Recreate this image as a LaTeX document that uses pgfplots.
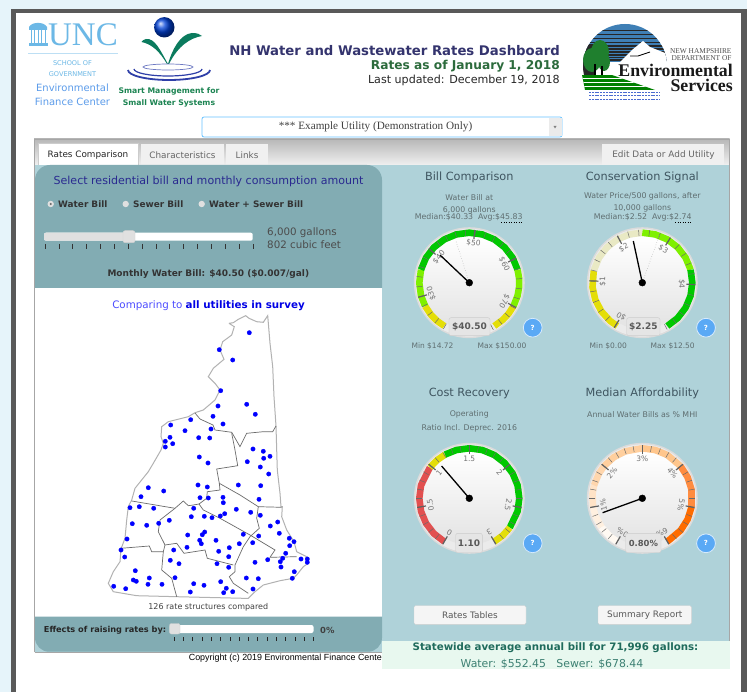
\documentclass[border=0pt]{standalone}
\usepackage{fontspec}
\setmainfont{DejaVu Sans}
\newfontfamily\serif{Liberation Serif}
\newfontfamily\arial{Liberation Sans}
\usepackage{pgfplots}
\pgfplotsset{compat=1.18}

\definecolor{pagebg}{HTML}{E6F4FA}
\definecolor{frame}{HTML}{595959}
\definecolor{teal}{HTML}{AFD2D9}
\definecolor{tealdk}{HTML}{82ACB3}
\definecolor{statebg}{HTML}{E8F8EF}
\definecolor{gold}{HTML}{E4DE08}
\definecolor{lime}{HTML}{7FF000}
\definecolor{grn}{HTML}{00C800}
\definecolor{beige}{HTML}{E9E9C4}
\definecolor{rd}{HTML}{E25050}
\definecolor{helpblue}{HTML}{5AA9F5}
\definecolor{unc}{HTML}{6CB8E6}
\definecolor{leaf}{HTML}{0B7B5E}
\definecolor{smarttxt}{HTML}{1C8452}
\definecolor{ripple}{HTML}{2F3FA8}
\definecolor{gtext}{HTML}{5F6E70}
\definecolor{gtitle}{HTML}{3F5560}
\definecolor{tick}{HTML}{6A6A6A}
\definecolor{titleblue}{HTML}{34346E}
\definecolor{titlegreen}{HTML}{2C6B3C}
\definecolor{selblue}{HTML}{2A2A90}
\definecolor{stateA}{HTML}{1F6B5C}
\definecolor{stateB}{HTML}{3D8073}
\definecolor{sky}{HTML}{3F7FB5}
\definecolor{treeg}{HTML}{1F7F2E}
\definecolor{wave}{HTML}{4A6AD0}

\newcommand{\fs}[1]{\fontsize{#1}{#1}\selectfont}
\newcommand{\rect}[5]{\fill[#1] (#2,#3) rectangle (#4,#5);}
% gauge pieces, all in page pixels, angles clockwise from east
\newcommand{\band}[4]{\addplot[data cs=polar, mark=none, line width=6.6pt, line join=round, color=#3,
  shift={(axis direction cs:#1,#2)}] coordinates {#4};}
\newcommand{\face}[2]{%
  \fill[black!14] (#1,#2) circle[radius=55.5pt];
  \fill[white!92!black] (#1,#2) circle[radius=54pt];
  \shade[top color=white, bottom color=black!11] (#1,#2) circle[radius=46.5pt];}
\newcommand{\gticks}[4]{%
  \pgfplotsinvokeforeach{#3}{\draw[tick, line width=.5pt] (axis cs:{#1+47*cos(##1)},{#2+47*sin(##1)}) -- (axis cs:{#1+53*cos(##1)},{#2+53*sin(##1)});}
  \pgfplotsinvokeforeach{#4}{\draw[black!62, line width=1.2pt] (axis cs:{#1+44*cos(##1)},{#2+44*sin(##1)}) -- (axis cs:{#1+53*cos(##1)},{#2+53*sin(##1)});}}
\newcommand{\glabel}[4]{\node[text=black!55, font=\fs{7.5}, rotate={270-#3}, inner sep=0] at (axis cs:{#1+39.5*cos(#3)},{#2+39.5*sin(#3)}) {#4};}
\newcommand{\needle}[4]{%
  \addplot[black, line width=1.3pt, mark=none] coordinates {(#1,#2)(#3,#4)};
  \addplot[only marks, mark=*, mark size=3.4pt, black] coordinates {(#1,#2)};}
\newcommand{\valbox}[6]{%
  \fill[black!10, draw=black!20, rounded corners=2pt] (#1,#2) rectangle (#3,#4);
  \node[text=black!65, font=\bfseries\fs{#6}, inner sep=0] at ({(#1+#3)/2},{(#2+#4)/2}) {#5};}
\newcommand{\help}[2]{%
  \fill[helpblue, draw=white!75!helpblue, line width=.8pt] (#1,#2) circle[radius=9.4pt];
  \node[text=white, font=\bfseries\fs{7}, inner sep=0] at (#1,#2) {?};}
\newcommand{\ctext}[5]{\node[text=#4, font=#5, inner sep=0, anchor=center] at (#1,#2) {#3};}
\newcommand{\rtext}[5]{\node[text=#4, font=#5, inner sep=0, anchor=east] at (#1,#2) {#3};}
\newcommand{\ltext}[5]{\node[text=#4, font=#5, inner sep=0, anchor=west] at (#1,#2) {#3};}
\newcommand{\btn}[5]{%
  \fill[black!4, draw=black!18, rounded corners=1.5pt] (#1,#2) rectangle (#3,#4);
  \node[text=black!65, font=\fs{8.9}, inner sep=0] at ({(#1+#3)/2},{(#2+#4)/2}) {#5};}

\begin{document}
\begin{tikzpicture}
\begin{axis}[
  hide axis, scale only axis, width=747pt, height=692pt,
  xmin=0, xmax=747, ymin=0, ymax=692, y dir=reverse, clip=false]

% page and frame
\rect{white}{0}{0}{747}{692}
\rect{pagebg}{0}{0}{747}{9}
\rect{pagebg}{0}{0}{10.5}{692}
\rect{frame}{10.5}{9}{741}{13.3}
\rect{frame}{10.5}{9}{15.5}{692}
\rect{frame}{740.5}{9}{747}{692}

% logos: UNC
\ctext{83}{35}{UNC}{unc}{\serif\fs{33}}
\pgfplotsinvokeforeach{30.5,34,37.5,41,44.5}{\fill[unc] (#1,30) rectangle (#1+1.4,43);}
\fill[unc] (29,27) .. controls (32,21.5) and (44,21.5) .. (47,27) -- (47,30) -- (29,30) -- cycle;
\fill[unc] (28.5,43) rectangle (47.5,46);
\draw[unc!45, line width=.8pt] (28,53) -- (118,53);
\ctext{72.5}{63.3}{SCHOOL OF}{unc}{\fs{6.6}}
\ctext{72.5}{73.7}{GOVERNMENT}{unc}{\fs{6.6}}
\ctext{72.5}{88}{Environmental}{unc!85!blue}{\fs{10}}
\ctext{72.5}{101.3}{Finance Center}{unc!85!blue}{\fs{10}}

% logos: Smart Management
\shade[ball color=blue!70!cyan!85!black] (164.3,27.3) circle[radius=10.2pt];
\fill[leaf] (168,64) .. controls (160,50) and (155,38) .. (146,39) .. controls (144,39.5) and (142.5,40.5) .. (141.5,42) .. controls (152,44) and (160,52) .. (167,64) -- cycle;
\fill[leaf] (168,64) .. controls (172,50) and (180,34) .. (192,33) .. controls (197,33) and (200,34) .. (202,36) .. controls (190,38) and (178,46) .. (169,64) -- cycle;
\draw[ripple, line width=1.8pt] (128,70) arc[start angle=180, end angle=360, x radius=41pt, y radius=10pt];
\draw[ripple, line width=1.2pt] (134,69) arc[start angle=180, end angle=360, x radius=34pt, y radius=7pt];
\draw[ripple!70, line width=.7pt] (168,67) ellipse[x radius=25pt, y radius=3pt];
\ctext{169}{91.3}{Smart Management for}{smarttxt}{\bfseries\fs{7.7}}
\ctext{169}{103}{Small Water Systems}{smarttxt}{\bfseries\fs{7.7}}

% logos: NH DES
\begin{scope}
\clip (625,66) circle[radius=42pt];
\rect{sky}{580}{22}{670}{62}
\pgfplotsinvokeforeach{30,34,38,42,45.5,48.5,51.5,54.5,57,59.5}{\fill[black!85] (580,#1) rectangle (670,#1+1.3);}
\fill[black!85] (580,44) rectangle (596,76);
\fill[white] (612,70) -- (632,50) -- (643,41) -- (650,47) -- (670,55) -- (670,72) -- cycle;
\end{scope}
\begin{scope}
\clip (582,75) -- (612,75) -- (655,90) -- (585,90) -- cycle;
\rect{green!50!black}{580}{75}{660}{90}
\pgfplotsinvokeforeach{78.5,82.5,86.5}{\draw[white, line width=.6pt] (580,#1) -- (660,#1);}
\end{scope}
\fill[treeg] (592,60) ellipse[x radius=9pt, y radius=12pt];
\fill[treeg] (600,52) ellipse[x radius=9pt, y radius=12pt];
\fill[treeg] (604,62) ellipse[x radius=6pt, y radius=9pt];
\fill[black] (594,64) rectangle (595.5,75);
\fill[black] (601,66) rectangle (602.5,75);
\pgfplotsinvokeforeach{92,95.5,99}{\draw[wave, line width=.7pt, dash pattern=on 2pt off .8pt] (589,#1) -- (660,#1);}
\draw[black, line width=.9pt] (630,56) -- (638,56) -- (650,52);
\rtext{731.7}{50.7}{NEW HAMPSHIRE}{black!70}{\serif\fs{7.4}}
\rtext{731.7}{58}{DEPARTMENT OF}{black!70}{\serif\fs{7.4}}
\rtext{733}{70}{Environmental}{black!90}{\serif\bfseries\fs{17.8}}
\rtext{733}{85}{Services}{black!90}{\serif\bfseries\fs{17.8}}

% header text
\rtext{560}{51}{NH Water and Wastewater Rates Dashboard}{titleblue}{\bfseries\fs{13.25}}
\rtext{560}{66}{Rates as of January 1, 2018}{titlegreen}{\bfseries\fs{12.2}}
\rtext{560}{80}{Last updated: December 19, 2018}{black!85}{\fs{11.1}}

% utility selector
\fill[white, draw=blue!40!cyan!60, line width=.8pt, rounded corners=2pt] (202,117) rectangle (562,137);
\rect{black!8}{549}{118}{561.5}{136.5}
\ctext{375.5}{127}{*** Example Utility (Demonstration Only)}{black!75}{\serif\fs{11.2}}
\fill[black!50] (553.5,126) -- (556.5,126) -- (555,128.5) -- cycle;

% tab strip
\shade[top color=black!28, bottom color=black!6] (34,139) rectangle (729.5,165);
\draw[black!35, line width=.8pt] (34,652) -- (34,139) -- (729.5,139) -- (729.5,641);
\fill[white, draw=black!20] (38,165) -- (38,143) -- (138,143) -- (138,165) -- cycle;
\fill[black!6] (141,144) rectangle (224,165);
\fill[black!6] (226,144) rectangle (268,165);
\fill[black!6] (602,144) rectangle (724,165);
\ctext{88}{155}{Rates Comparison}{black!85}{\fs{8.85}}
\ctext{182.5}{155}{Characteristics}{black!60}{\fs{8.85}}
\ctext{247}{155}{Links}{black!60}{\fs{8.85}}
\ctext{663.5}{155}{Edit Data or Add Utility}{black!60}{\fs{8.9}}

% panels
\rect{teal}{35}{165}{729}{641}
\rect{teal}{35}{640}{382}{652}
\fill[tealdk] (35,288) [rounded corners=15pt] -- (35,165) -- (382,165) [sharp corners] -- (382,288) -- cycle;
\rect{white}{35}{288}{382}{617}
\fill[tealdk] (35,616.7) [rounded corners=14pt] -- (35,651.7) -- (382,651.7) [sharp corners] -- (382,616.7) -- cycle;
\draw[black!35, line width=.8pt] (34.5,652) -- (382,652);
\rect{statebg}{382}{640.7}{729.6}{669}

% top-left controls
\ctext{208.5}{181.7}{Select residential bill and monthly consumption amount}{selblue}{\fs{11.05}}
\pgfplotsinvokeforeach{50.7,125.7,201.7}{\fill[black!12] (#1,204) circle[radius=3.2pt];}
\fill[black!60] (50.7,204) circle[radius=1.1pt];
\ltext{58}{204}{Water Bill}{black!80}{\bfseries\fs{8.9}}
\ltext{133}{204}{Sewer Bill}{black!80}{\bfseries\fs{8.9}}
\ltext{209}{204}{Water + Sewer Bill}{black!80}{\bfseries\fs{8.9}}
\fill[white, rounded corners=2pt] (44,232.7) rectangle (252.7,240.7);
\fill[black!12, rounded corners=2pt] (44,232.7) rectangle (130,240.7);
\fill[black!12, draw=black!18, rounded corners=2pt] (123,230.7) rectangle (135,242.7);
\pgfplotsinvokeforeach{45,58.85,...,253}{\draw[black!80, line width=.5pt] (#1,244) -- (#1,248.7);}
\ltext{267}{233}{6,000 gallons}{black!70}{\fs{10.3}}
\ltext{267}{245}{802 cubic feet}{black!70}{\fs{10.3}}
\ctext{208.3}{274.3}{Monthly Water Bill: \$40.50 (\$0.007/gal)}{black!80}{\bfseries\fs{9}}

% map
\node[inner sep=0, anchor=center, font=\fs{10.3}] at (208.5,305.3) {\textcolor{blue!70!white}{Comparing to} \textcolor{blue!90!black}{\bfseries all utilities in survey}};

\addplot[black!30, line width=1pt, mark=none] coordinates {
 (229,323.3)(233.3,322.7)(238.3,319.3)(245.7,315.7)(249,318.3)(256.7,321.7)(263.3,322.3)(267.7,315.7)
 (270,343.3)(272.7,366.7)(274,396.7)(276,426)(276.7,450)(277.3,470)(280,493.3)(281,506.7)(282.3,506.7)
 (281.7,516.7)(286.7,530)(294,541.7)(296.7,551.7)(306.7,556.7)(308.3,563.3)(303.3,566.7)(296.7,575)
 (293.3,578.3)(280,580.7)(263.3,585)(255,591.7)(248.3,598.3)(243.3,598.3)(176.7,596.7)(136.7,595.7)
 (113.3,591.7)(108.3,583.3)(113.3,571.7)(120,561.7)(121,549)(125,538.3)(126.7,520)(128.3,506.7)
 (131.7,500)(135,488.3)(148.3,471.7)(153.3,463.3)(161,450)(163.3,443.3)(161,436.7)(161.7,426.7)
 (168.3,421.7)(188.3,416.7)(195,412.7)(203.3,410)(215,400)(220,390)(215,383.3)(208.3,376.7)(213.3,368.3)
 (224,359.3)(220,350)(222.7,341.7)(231.7,335)(234.3,326.7)(229,323.3)};
\addplot[black!58, line width=.7pt, mark=none] coordinates {(195,413)(200,419)(213,425)(215,430)(231.7,432.3)(233.3,435)(240,446.7)(246.7,433.3)(263.3,431.7)(272.7,431.7)(276,426)};
\addplot[black!58, line width=.7pt, mark=none] coordinates {(231.7,433.3)(235,450)(237.7,465.7)(216.7,469)(219.3,483.3)(220,490)(207.3,491.7)(206.7,498.3)(199,504)};
\addplot[black!58, line width=.7pt, mark=none] coordinates {(131.7,501)(175,508.3)(183.3,501)(188.3,505.7)(193.3,505)(199,504)};
\addplot[black!58, line width=.7pt, mark=none] coordinates {(219.3,483.3)(240,495)(258.3,506.7)(281.7,507.3)};
\addplot[black!58, line width=.7pt, mark=none] coordinates {(199,504)(203.3,510)(220,518.3)(250,535)(275,550)(270,557.3)(296.7,556.7)};
\addplot[black!58, line width=.7pt, mark=none] coordinates {(258.3,506.7)(256.7,518.3)(259.3,528.3)(250,536.7)(243.3,546.7)(235,565)(235,571.7)(229.3,576.7)(233.3,583.3)(243.3,590)(248.3,593.3)};
\addplot[black!58, line width=.7pt, mark=none] coordinates {(175,508.3)(160,520)(158.3,531.7)(165,545)(176.7,543.3)(184,553.3)(205,550)(207.3,558.3)(233.3,565)};
\addplot[black!58, line width=.7pt, mark=none] coordinates {(121,548.3)(149.3,546)(151.7,551.7)(163.3,551.7)(165,545)};
\addplot[black!58, line width=.7pt, mark=none] coordinates {(163.3,551.7)(161.7,570)(171.7,578.3)(176.7,596.7)};

\addplot[only marks, mark=*, mark size=2.15pt, color=blue, mark options={draw=blue, fill=blue}] coordinates {
 (249.3,332.7)(219.3,349.7)(232.7,360)(220.7,390.7)(218,406)(246.7,404.3)(255.3,414.3)(213,416.3)(223,424)
 (190.7,419.7)(211,429)(170.7,425)(185,430.7)(170,437.3)(198.7,437.7)(209.7,438)(165.3,441.3)(172.7,443.7)
 (165.3,447)(253,449)(263.3,451.3)(270,456.3)(263.7,458.3)(199.3,457)(208,463)(247.3,461.7)(260.3,467)
 (268.7,474)(198,485)(207.3,487)(238.3,485)(260.7,485.7)(148.3,487.7)(163.7,491)(141,496.7)(200,497.7)
 (208.3,498)(223,497.3)(223.3,502.7)(259,499.3)(130,507.7)(139.3,506.7)(153.7,508.3)(193.7,508.3)(236.3,509.3)
 (250.7,512.3)(224.7,513.7)(220.3,516)(212,517.7)(204.3,516.3)(191.3,516.7)(260.3,515.3)(169.3,520.3)
 (132.3,523.7)(146.7,525.3)(158.7,523.3)(277.7,522)(270.3,526)(204.7,532)(202.3,534.7)(187.7,535)(243.3,534.3)
 (258.7,536)(279.3,533.3)(289.3,538.3)(294,541.7)(127,539)(199.7,540.3)(201.3,543.7)(216,540.3)(239.3,543.7)
 (252.7,542.7)(289.7,545.7)(187,547.3)(229.3,547.7)(121,550)(173.7,550)(218.7,551.3)(285.7,553.3)(124.7,557)
 (228.7,556.7)(267.7,559.7)(282.7,558.3)(280.3,561.7)(301,559)(307.3,559)(307.3,562.3)(170.3,560.3)(179,563.7)
 (255,562.3)(217,563.7)(228.7,567.3)(281,567)(135.3,570.7)(294.3,571.7)(149.3,578)(133.3,580)(136.3,581.3)
 (175,577.7)(246.3,578)(258.3,578.7)(292.3,578.3)(148,584.3)(162,584.3)(113.7,586.3)(125.7,588.7)(193.7,583.7)
 (204,585.3)(220.7,581.7)(226.3,588.3)(190.3,592)(223.7,592.7)(232.7,591.7)(253,589)};
\ctext{208.3}{607.5}{126 rate structures compared}{black!75}{\fs{8}}

% bottom-left slider
\ltext{43.7}{630}{Effects of raising rates by:}{black!85}{\bfseries\fs{8.2}}
\fill[white, rounded corners=2pt] (169.5,625) rectangle (313.5,633);
\fill[black!12, draw=black!18, rounded corners=2pt] (169.5,623.5) rectangle (180,634);
\pgfplotsinvokeforeach{174,183.3,...,314}{\draw[black!85, line width=.5pt] (#1,637) -- (#1,640.7);}
\ltext{320}{630}{0\%}{black!75}{\bfseries\fs{8.4}}
\node[text=black, font=\arial\fs{8.9}, inner sep=0, anchor=east] at (382,658) {Copyright (c) 2019 Environmental Finance Cente};

% gauge 1: bill comparison
\ctext{469.3}{177.5}{Bill Comparison}{gtitle}{\fs{11.3}}
\ctext{469.3}{197.7}{Water Bill at}{gtext}{\fs{7.8}}
\ctext{469.3}{210.7}{6,000 gallons}{gtext}{\fs{7.8}}
\ctext{468.7}{217.6}{Median:\$40.33\ \ Avg:\$45.83}{gtext}{\fs{7.8}}
\draw[black, line width=.5pt, dotted] (501,222.3) -- (522.7,222.3);
\face{469.3}{282.7}
\band{469.3}{282.7}{gold}{(120,50)(130,50)(140,50)(152,50)}
\band{469.3}{282.7}{lime}{(152,50)(165,50)(180,50)(195,50)}
\band{469.3}{282.7}{grn}{(195,50)(210,50)(225,50)(240,50)(255,50)(270,50)(285,50)(300,50)(315,50)(330,50)(345,50)}
\band{469.3}{282.7}{lime}{(345,50)(355,50)(365,50)(375,50)(388,50)}
\band{469.3}{282.7}{gold}{(388,50)(398,50)(408,50)(420,50)}
\gticks{469.3}{282.7}{119.25,130.5,...,420}{164,220,276,332,388}
\draw[black!35, dotted, line width=.5pt] (469.3,282.7) -- (455.6,240);
\glabel{469.3}{282.7}{164}{\$30}
\glabel{469.3}{282.7}{220}{\$40}
\glabel{469.3}{282.7}{276}{\$50}
\glabel{469.3}{282.7}{332}{\$60}
\glabel{469.3}{282.7}{388}{\$70}
\needle{469.3}{282.7}{440}{255}
\valbox{449}{317.7}{490}{335.7}{\$40.50}{9}
\help{532.7}{327.7}
\ctext{432.5}{346}{Min \$14.72}{gtext}{\fs{7.5}}
\ctext{502}{346}{Max \$150.00}{gtext}{\fs{7.5}}

% gauge 2: conservation signal
\ctext{642.3}{177.5}{Conservation Signal}{gtitle}{\fs{11.3}}
\ctext{642.3}{196.7}{Water Price/500 gallons, after}{gtext}{\fs{7.85}}
\ctext{642.3}{208.7}{10,000 gallons}{gtext}{\fs{7.8}}
\ctext{642.7}{217.6}{Median:\$2.52\ \ Avg:\$2.74}{gtext}{\fs{7.8}}
\draw[black, line width=.5pt, dotted] (675,222.3) -- (691,222.3);
\face{642.3}{282.7}
\band{642.3}{282.7}{gold}{(120,50)(130,50)(145,50)(160,50)(175,50)(194,50)}
\band{642.3}{282.7}{beige}{(194,50)(210,50)(225,50)(240,50)(255,50)(270,50)}
\band{642.3}{282.7}{lime}{(270,50)(285,50)(300,50)(315,50)(330,50)(345,50)}
\band{642.3}{282.7}{grn}{(345,50)(360,50)(375,50)(390,50)(405,50)(420,50)}
\gticks{642.3}{282.7}{122,134,...,422}{122,182,242,302,362}
\draw[black!35, dotted, line width=.5pt] (642.3,282.7) -- (659.5,235);
\glabel{642.3}{282.7}{122}{\$0}
\glabel{642.3}{282.7}{182}{\$1}
\glabel{642.3}{282.7}{242}{\$2}
\glabel{642.3}{282.7}{302}{\$3}
\glabel{642.3}{282.7}{362}{\$4}
\needle{642.3}{282.7}{633.3}{241}
\valbox{626.7}{317.7}{660}{335.7}{\$2.25}{9}
\help{706}{327.7}
\ctext{608.3}{346}{Min \$0.00}{gtext}{\fs{7.5}}
\ctext{672.7}{346}{Max \$12.50}{gtext}{\fs{7.5}}

% gauge 3: cost recovery
\ctext{469.3}{393.5}{Cost Recovery}{gtitle}{\fs{11.3}}
\ctext{469.3}{414.3}{Operating}{gtext}{\fs{7.8}}
\ctext{469.3}{428}{Ratio Incl. Deprec. 2016}{gtext}{\fs{7.8}}
\face{469.3}{498.3}
\band{469.3}{498.3}{rd}{(120,50)(135,50)(150,50)(165,50)(180,50)(195,50)(218,50)}
\band{469.3}{498.3}{gold}{(218,50)(230,50)(241,50)}
\band{469.3}{498.3}{grn}{(241,50)(255,50)(270,50)(285,50)(300,50)(315,50)(330,50)(345,50)(360,50)(375,50)(396,50)}
\band{469.3}{498.3}{gold}{(396,50)(408,50)(420,50)}
\gticks{469.3}{498.3}{120,130,...,420}{120,170,...,420}
\glabel{469.3}{498.3}{120}{0}
\glabel{469.3}{498.3}{170}{0.5}
\glabel{469.3}{498.3}{220}{1}
\glabel{469.3}{498.3}{270}{1.5}
\glabel{469.3}{498.3}{320}{2}
\glabel{469.3}{498.3}{370}{2.5}
\glabel{469.3}{498.3}{420}{3}
\needle{469.3}{498.3}{441.6}{466}
\valbox{455.7}{533.3}{482.3}{552.7}{1.10}{9}
\help{532.7}{543.3}

% gauge 4: median affordability
\ctext{642.3}{393.5}{Median Affordability}{gtitle}{\fs{11.3}}
\ctext{642.3}{414.3}{Annual Water Bills as \% MHI}{gtext}{\fs{7.85}}
\face{642.3}{498.3}
\band{642.3}{498.3}{orange!5!white}{(120,50)(130,50)(145,50)}
\band{642.3}{498.3}{orange!12!white}{(145,50)(160,50)(170,50)}
\band{642.3}{498.3}{orange!22!white}{(170,50)(185,50)(195,50)}
\band{642.3}{498.3}{orange!32!white}{(195,50)(210,50)(220,50)}
\band{642.3}{498.3}{orange!38!white}{(220,50)(235,50)(250,50)(270,50)}
\band{642.3}{498.3}{orange!45!white}{(270,50)(285,50)(300,50)(320,50)}
\band{642.3}{498.3}{orange!80!red!75!white}{(320,50)(335,50)(350,50)(370,50)}
\band{642.3}{498.3}{orange!85!red}{(370,50)(385,50)(400,50)(420,50)}
\gticks{642.3}{498.3}{120,130,...,420}{120,170,...,420}
\glabel{642.3}{498.3}{120}{0\%}
\glabel{642.3}{498.3}{170}{1\%}
\glabel{642.3}{498.3}{220}{2\%}
\glabel{642.3}{498.3}{270}{3\%}
\glabel{642.3}{498.3}{320}{4\%}
\glabel{642.3}{498.3}{370}{5\%}
\glabel{642.3}{498.3}{420}{6\%}
\needle{642.3}{498.3}{602.6}{512.7}
\valbox{625.7}{533.3}{661}{552.7}{0.80\%}{8.4}
\help{706}{543.3}

% buttons and statewide box
\btn{414}{605.7}{526}{624.3}{Rates Tables}
\btn{598}{605.7}{691.6}{624.3}{Summary Report}
\ctext{555.5}{648}{Statewide average annual bill for 71,996 gallons:}{stateA}{\bfseries\fs{10.25}}
\ctext{552}{664}{Water: \$552.45\ \ \ Sewer: \$678.44}{stateB}{\fs{10.9}}

\end{axis}
\end{tikzpicture}
\end{document}
